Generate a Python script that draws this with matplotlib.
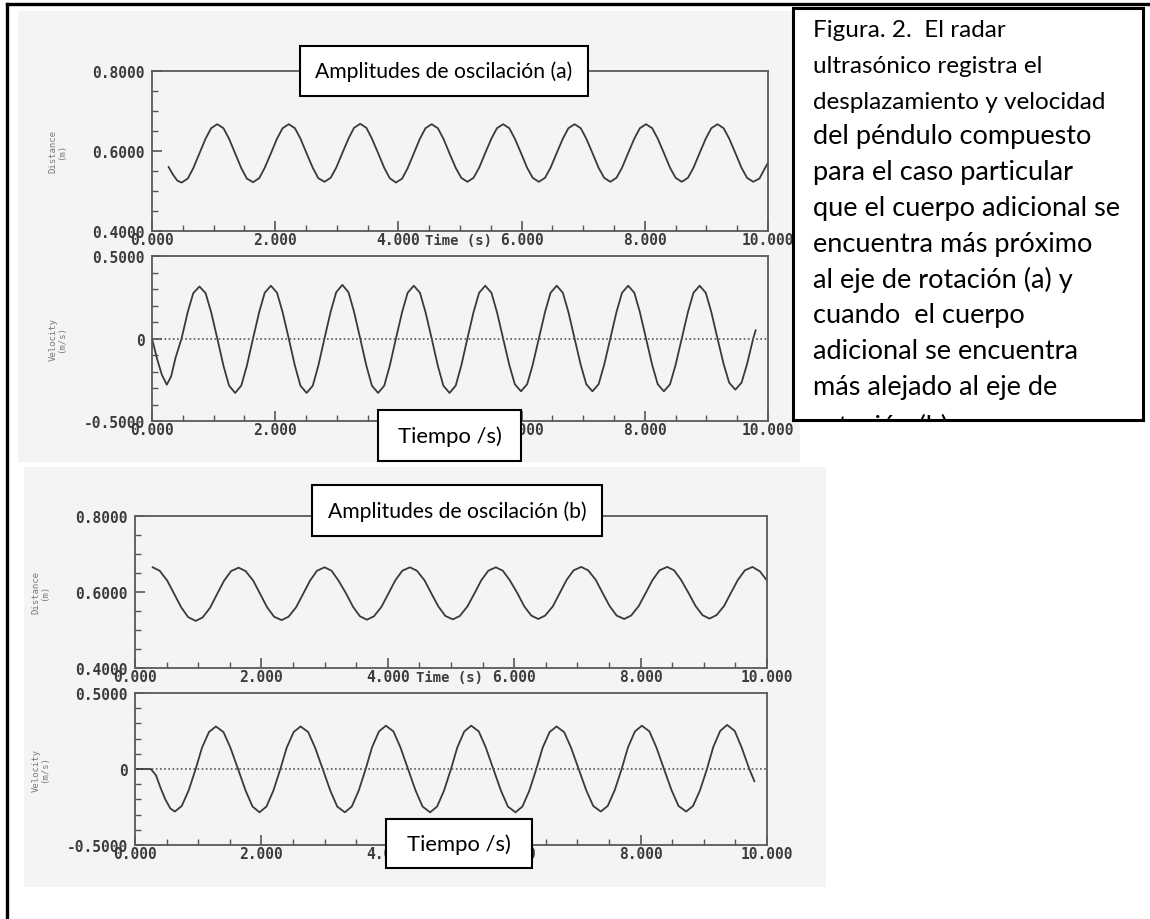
import matplotlib.pyplot as plt
from matplotlib.patches import Rectangle
from matplotlib.lines import Line2D

# Datos (tiempo en s, distancia en m, velocidad en m/s)
# (a) cuerpo adicional cerca del eje
dist_a_t = [0.27, 0.34, 0.41,
            0.48, 0.58, 0.67, 0.77, 0.87, 0.96,
            1.06, 1.16, 1.25, 1.35, 1.45, 1.54,
            1.64, 1.74, 1.83, 1.93, 2.03, 2.12,
            2.22, 2.32, 2.41, 2.51, 2.61, 2.70,
            2.80, 2.90, 2.99, 3.09, 3.19, 3.28,
            3.38, 3.48, 3.57, 3.67, 3.77, 3.86,
            3.96, 4.06, 4.15, 4.25, 4.35, 4.44,
            4.54, 4.64, 4.73, 4.83, 4.93, 5.02,
            5.12, 5.22, 5.31, 5.41, 5.51, 5.60,
            5.70, 5.80, 5.89, 5.99, 6.09, 6.18,
            6.28, 6.38, 6.47, 6.57, 6.67, 6.76,
            6.86, 6.96, 7.05, 7.15, 7.25, 7.34,
            7.44, 7.54, 7.63, 7.73, 7.83, 7.92,
            8.02, 8.12, 8.21, 8.31, 8.41, 8.50,
            8.60, 8.70, 8.79, 8.89, 8.99, 9.08,
            9.18, 9.28, 9.37, 9.47, 9.57, 9.66,
            9.76, 9.86, 9.93, 10.0]
dist_a_v = [0.560, 0.541, 0.526,
            0.521, 0.531, 0.557, 0.594, 0.631, 0.657,
            0.667, 0.657, 0.631, 0.594, 0.557, 0.531,
            0.522, 0.532, 0.558, 0.594, 0.631, 0.657,
            0.667, 0.657, 0.631, 0.594, 0.558, 0.532,
            0.523, 0.533, 0.558, 0.595, 0.631, 0.658,
            0.668, 0.658, 0.631, 0.595, 0.558, 0.532,
            0.521, 0.531, 0.557, 0.594, 0.631, 0.657,
            0.667, 0.657, 0.631, 0.594, 0.558, 0.533,
            0.523, 0.533, 0.558, 0.595, 0.631, 0.657,
            0.667, 0.657, 0.631, 0.595, 0.558, 0.533,
            0.523, 0.533, 0.558, 0.595, 0.631, 0.657,
            0.667, 0.657, 0.631, 0.595, 0.558, 0.533,
            0.523, 0.533, 0.558, 0.595, 0.631, 0.657,
            0.667, 0.657, 0.631, 0.595, 0.558, 0.533,
            0.523, 0.533, 0.558, 0.595, 0.631, 0.657,
            0.667, 0.657, 0.631, 0.595, 0.558, 0.533,
            0.523, 0.531, 0.551, 0.571]

vel_a_t = [0.0, 0.08, 0.16, 0.24, 0.31, 0.38,
           0.48, 0.58, 0.67, 0.77, 0.87, 0.96,
           1.06, 1.16, 1.25, 1.35, 1.45, 1.54,
           1.64, 1.74, 1.83, 1.93, 2.03, 2.12,
           2.22, 2.32, 2.41, 2.51, 2.61, 2.70,
           2.80, 2.90, 2.99, 3.09, 3.19, 3.28,
           3.38, 3.48, 3.57, 3.67, 3.77, 3.86,
           3.96, 4.06, 4.15, 4.25, 4.35, 4.44,
           4.54, 4.64, 4.73, 4.83, 4.93, 5.02,
           5.12, 5.22, 5.31, 5.41, 5.51, 5.60,
           5.70, 5.80, 5.89, 5.99, 6.09, 6.18,
           6.28, 6.38, 6.47, 6.57, 6.67, 6.76,
           6.86, 6.96, 7.05, 7.15, 7.25, 7.34,
           7.44, 7.54, 7.63, 7.73, 7.83, 7.92,
           8.02, 8.12, 8.21, 8.31, 8.41, 8.50,
           8.60, 8.70, 8.79, 8.89, 8.99, 9.08,
           9.18, 9.28, 9.37, 9.47, 9.57, 9.66,
           9.76, 9.80]
vel_a_v = [0.0, -0.12, -0.22, -0.28, -0.23, -0.12,
           0.0, 0.16, 0.275, 0.315, 0.275, 0.16,
           0.0, -0.165, -0.285, -0.33, -0.285, -0.165,
           0.0, 0.16, 0.277, 0.32, 0.277, 0.16,
           0.0, -0.165, -0.286, -0.33, -0.286, -0.165,
           0.0, 0.162, 0.28, 0.325, 0.28, 0.162,
           0.0, -0.165, -0.286, -0.33, -0.286, -0.165,
           0.0, 0.16, 0.277, 0.32, 0.277, 0.16,
           0.0, -0.165, -0.286, -0.33, -0.286, -0.165,
           0.0, 0.16, 0.277, 0.32, 0.277, 0.16,
           0.0, -0.16, -0.277, -0.32, -0.277, -0.16,
           0.0, 0.16, 0.277, 0.32, 0.277, 0.16,
           0.0, -0.16, -0.277, -0.32, -0.277, -0.16,
           0.0, 0.16, 0.277, 0.32, 0.277, 0.16,
           0.0, -0.16, -0.277, -0.32, -0.277, -0.16,
           0.0, 0.16, 0.277, 0.32, 0.277, 0.16,
           0.0, -0.155, -0.268, -0.31, -0.268, -0.155,
           0.0, 0.05]

# (b) cuerpo adicional lejos del eje
dist_b_t = [0.28, 0.39, 0.51, 0.62, 0.73, 0.84,
            0.96, 1.07, 1.19, 1.30, 1.41, 1.52,
            1.64, 1.75, 1.87, 1.98, 2.09, 2.20,
            2.32, 2.43, 2.55, 2.66, 2.77, 2.88,
            3.00, 3.11, 3.22, 3.34, 3.45, 3.56,
            3.67, 3.78, 3.90, 4.01, 4.12, 4.23,
            4.35, 4.46, 4.58, 4.69, 4.80, 4.91,
            5.03, 5.14, 5.26, 5.37, 5.48, 5.59,
            5.71, 5.82, 5.93, 6.05, 6.16, 6.27,
            6.38, 6.49, 6.61, 6.72, 6.83, 6.94,
            7.06, 7.17, 7.29, 7.40, 7.51, 7.62,
            7.74, 7.85, 7.97, 8.08, 8.19, 8.30,
            8.42, 8.53, 8.64, 8.76, 8.87, 8.98,
            9.09, 9.20, 9.32, 9.43, 9.54, 9.65,
            9.77, 9.89, 10.0]
dist_b_v = [0.665, 0.656, 0.630, 0.595, 0.560, 0.534,
            0.524, 0.533, 0.559, 0.595, 0.630, 0.655,
            0.664, 0.655, 0.630, 0.595, 0.560, 0.535,
            0.526, 0.535, 0.560, 0.595, 0.630, 0.656,
            0.665, 0.656, 0.630, 0.596, 0.561, 0.536,
            0.527, 0.536, 0.561, 0.596, 0.631, 0.656,
            0.665, 0.656, 0.631, 0.596, 0.562, 0.537,
            0.528, 0.537, 0.562, 0.596, 0.631, 0.656,
            0.665, 0.656, 0.631, 0.597, 0.562, 0.538,
            0.529, 0.538, 0.562, 0.597, 0.632, 0.657,
            0.666, 0.657, 0.632, 0.597, 0.563, 0.538,
            0.529, 0.538, 0.563, 0.597, 0.632, 0.657,
            0.666, 0.657, 0.632, 0.597, 0.563, 0.539,
            0.530, 0.539, 0.563, 0.598, 0.632, 0.657,
            0.666, 0.654, 0.630]

vel_b_t = [0.0, 0.25, 0.33, 0.41, 0.48, 0.56,
           0.63, 0.74, 0.85, 0.96, 1.06, 1.17,
           1.28, 1.40, 1.51, 1.63, 1.75, 1.86,
           1.97, 2.08, 2.19, 2.30, 2.40, 2.51,
           2.62, 2.74, 2.85, 2.97, 3.09, 3.20,
           3.32, 3.43, 3.54, 3.65, 3.75, 3.86,
           3.97, 4.09, 4.20, 4.32, 4.44, 4.55,
           4.67, 4.78, 4.89, 5.00, 5.10, 5.21,
           5.32, 5.44, 5.55, 5.67, 5.79, 5.90,
           6.02, 6.13, 6.24, 6.35, 6.45, 6.56,
           6.67, 6.79, 6.90, 7.02, 7.14, 7.25,
           7.37, 7.48, 7.59, 7.70, 7.80, 7.91,
           8.02, 8.14, 8.25, 8.37, 8.49, 8.60,
           8.72, 8.83, 8.94, 9.05, 9.15, 9.26,
           9.37, 9.49, 9.60, 9.72, 9.80]
vel_b_v = [0.0, 0.0, -0.04, -0.13, -0.20, -0.26,
           -0.28, -0.243, -0.14, 0.0, 0.14, 0.243,
           0.28, 0.243, 0.14, 0.0, -0.142, -0.247,
           -0.285, -0.247, -0.142, 0.0, 0.14, 0.243,
           0.28, 0.243, 0.14, 0.0, -0.142, -0.247,
           -0.285, -0.247, -0.142, 0.0, 0.142, 0.247,
           0.285, 0.247, 0.142, 0.0, -0.142, -0.247,
           -0.285, -0.247, -0.142, 0.0, 0.142, 0.247,
           0.285, 0.247, 0.142, 0.0, -0.142, -0.247,
           -0.285, -0.247, -0.142, 0.0, 0.14, 0.243,
           0.28, 0.243, 0.14, 0.0, -0.14, -0.243,
           -0.28, -0.243, -0.14, 0.0, 0.142, 0.247,
           0.285, 0.247, 0.142, 0.0, -0.14, -0.243,
           -0.28, -0.243, -0.14, 0.0, 0.145, 0.251,
           0.29, 0.25, 0.14, 0.0, -0.08]

x_ticks = [0, 2, 4, 6, 8, 10]
x_labels = ["0.000", "2.000", "4.000", "6.000", "8.000", "10.000"]
dist_ticks = [0.4, 0.6, 0.8]
dist_labels = ["0.4000", "0.6000", "0.8000"]
vel_ticks = [-0.5, 0.0, 0.5]
vel_labels = ["-0.5000", "0", "0.5000"]

caption = ["Figura. 2.  El radar",
           "ultrasónico registra el",
           "desplazamiento y velocidad",
           "del péndulo compuesto",
           "para el caso particular",
           "que el cuerpo adicional se",
           "encuentra más próximo",
           "al eje de rotación (a) y",
           "cuando  el cuerpo",
           "adicional se encuentra",
           "más alejado al eje de",
           "rotación (b)."]

W, H = 1150, 920
fig = plt.figure(figsize=(W / 100, H / 100), dpi=100)
fig.patch.set_facecolor("white")


def rect(x0, y0, x1, y1):
    # pixeles (origen arriba-izquierda) -> fraccion de figura
    return [x0 / W, 1 - y1 / H, (x1 - x0) / W, (y1 - y0) / H]


# fondo gris de los escaneos
for x0, y0, x1, y1 in [(18, 12, 800, 463), (24, 468, 826, 888)]:
    r = rect(x0, y0, x1, y1)
    fig.add_artist(Rectangle((r[0], r[1]), r[2], r[3], transform=fig.transFigure,
                             facecolor="#f4f4f4", edgecolor="none", zorder=-5))

# marco de la pagina
fig.add_artist(Line2D([7 / W, 7 / W], [0, 1 - 5 / H], transform=fig.transFigure,
                      color="black", lw=2.4))
fig.add_artist(Line2D([7 / W, 1], [1 - 5 / H, 1 - 5 / H], transform=fig.transFigure,
                      color="black", lw=2.4))

gris = "#3c3c3c"
mono = "DejaVu Sans Mono"


def panel(pos, t, v, ylim, yt, yl, yminor, ylab, lab_x, time_label):
    ax = fig.add_axes(rect(*pos))
    ax.set_facecolor("none")
    ax.plot(t, v, color="#3a3a3a", lw=1.3)
    ax.set_xlim(0, 10)
    ax.set_ylim(*ylim)
    ax.set_xticks(x_ticks)
    ax.set_xticklabels(x_labels)
    ax.set_xticks([i * 0.5 for i in range(21)], minor=True)
    ax.set_yticks(yt)
    ax.set_yticklabels(yl)
    ax.set_yticks(yminor, minor=True)
    ax.tick_params(which="major", direction="in", length=7, width=1.2, color="#555555",
                   labelsize=10.5, labelcolor=gris, pad=1)
    ax.tick_params(which="minor", direction="in", length=4, width=1.0, color="#555555")
    ax.tick_params(axis="y", which="major", pad=5)
    for lab in ax.get_xticklabels() + ax.get_yticklabels():
        lab.set_fontfamily(mono)
        lab.set_fontweight("bold")
    for s in ax.spines.values():
        s.set_color("#5a5a5a")
        s.set_linewidth(1.3)
    if time_label:
        ax.text(4.98, -0.015, "Time (s)", transform=ax.get_xaxis_transform(),
                ha="center", va="top", fontsize=10, family=mono, fontweight="bold", color=gris)
    x0, y0, x1, y1 = pos
    fig.text(lab_x / W, 1 - (y0 + y1) / 2 / H, ylab, rotation=90, ha="center", va="center",
             fontsize=6.5, family=mono, color="#7a7a7a", linespacing=0.9,
             multialignment="center")
    return ax


ax1 = panel((152, 72, 768, 232), dist_a_t, dist_a_v, (0.4, 0.8), dist_ticks, dist_labels,
            [0.4 + 0.05 * i for i in range(9)], "Distance\n(m)", 57, True)
ax2 = panel((152, 257, 768, 422), vel_a_t, vel_a_v, (-0.5, 0.5), vel_ticks, vel_labels,
            [-0.5 + 0.1 * i for i in range(11)], "Velocity\n(m/s)", 57, False)
ax3 = panel((135, 517, 767, 669), dist_b_t, dist_b_v, (0.4, 0.8), dist_ticks, dist_labels,
            [0.4 + 0.05 * i for i in range(9)], "Distance\n(m)", 40, True)
ax4 = panel((135, 694, 767, 846), vel_b_t, vel_b_v, (-0.5, 0.5), vel_ticks, vel_labels,
            [-0.5 + 0.1 * i for i in range(11)], "Velocity\n(m/s)", 40, False)

for ax in (ax2, ax4):
    ax.axhline(0, color="#555555", lw=1.2, linestyle=(0, (1, 1.5)))

# cuadros de texto superpuestos
cuadros = [((300, 47, 588, 97), "Amplitudes de oscilación (a)", 15.2),
           ((378, 411, 521, 462), "Tiempo /s)", 15.8),
           ((312, 486, 602, 537), "Amplitudes de oscilación (b)", 15.2),
           ((386, 820, 532, 869), "Tiempo /s)", 15.8)]
for (x0, y0, x1, y1), txt, fs in cuadros:
    r = rect(x0, y0, x1, y1)
    fig.add_artist(Rectangle((r[0], r[1]), r[2], r[3], transform=fig.transFigure,
                             facecolor="white", edgecolor="black", lw=1.5, zorder=5))
    fig.text((x0 + x1) / 2 / W, 1 - (y0 + y1) / 2 / H, txt, ha="center", va="center",
             fontsize=fs, family="Lato", color="black", zorder=6)

# leyenda de la figura (la ultima linea queda recortada por el borde del cuadro)
axt = fig.add_axes(rect(793, 9, 1143, 421))
axt.set_zorder(5)
axt.set_xlim(0, 350)
axt.set_ylim(412, 0)
axt.set_xticks([])
axt.set_yticks([])
for s in axt.spines.values():
    s.set_linewidth(2.2)
    s.set_color("black")
for i, linea in enumerate(caption):
    y = 28 + 35.8 * i + (4 if i == len(caption) - 1 else 0)
    axt.text(20, y, linea, ha="left", va="baseline",
             fontsize=17.5 if i < 3 else 19.5, family="Lato", color="black", clip_on=True)

fig.savefig("out.png", dpi=100)
